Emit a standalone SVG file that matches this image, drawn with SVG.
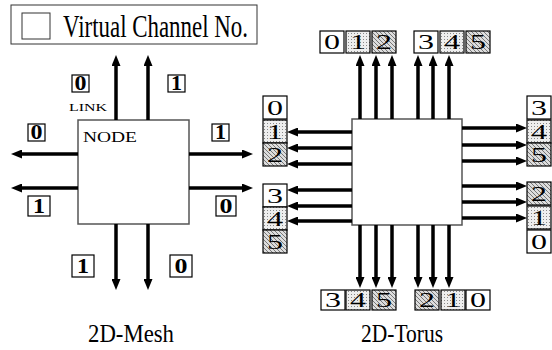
<svg xmlns="http://www.w3.org/2000/svg" width="552" height="350" viewBox="0 0 552 350">
<defs>
<marker id="ah" markerUnits="userSpaceOnUse" markerWidth="11" markerHeight="9" refX="0" refY="4.5" orient="auto">
<path d="M0,0 L11,4.5 L0,9 Z" fill="#000"/>
</marker>
<pattern id="dots" width="3" height="3" patternUnits="userSpaceOnUse">
<rect width="3" height="3" fill="#eee"/>
<rect width="1" height="1" fill="#888"/>
</pattern>
<pattern id="hatch" width="4" height="4" patternUnits="userSpaceOnUse">
<rect width="4" height="4" fill="#ddd"/>
<path d="M0,0 L4,4 M-1,3 L1,5 M3,-1 L5,1" stroke="#777" stroke-width="1"/>
</pattern>
</defs>
<style>
text{font-family:"Liberation Serif","DejaVu Serif",serif}
.box{fill:#fff;stroke:#555;stroke-width:1.5}
.lb{stroke:#000;stroke-width:1.2}
.w{fill:#fff}
.d{fill:url(#dots)}
.h{fill:url(#hatch)}
.mt{font-weight:bold;font-size:20px;text-anchor:middle}
.tt{font-size:22px;text-anchor:middle}
.big{font-size:26px}
.conn path{fill:none;stroke:#000;stroke-width:3.5;marker-end:url(#ah)}
</style>

<g id="legend">
<rect x="11" y="5" width="246" height="39" fill="#fff" stroke="#333" stroke-width="1"/>
<rect x="22" y="13" width="28" height="26" fill="#fff" stroke="#333" stroke-width="1"/>
<text x="63" y="37" font-size="31" textLength="185" lengthAdjust="spacingAndGlyphs">Virtual Channel No.</text>
</g>

<g id="mesh-node">
<rect class="box" x="78" y="120" width="111" height="104"/>
<text x="83" y="142" font-size="15" textLength="54" lengthAdjust="spacingAndGlyphs">NODE</text>
</g>
<text id="link-label" x="69" y="111" font-size="10" textLength="38" lengthAdjust="spacingAndGlyphs">LINK</text>

<g id="mesh-labels">
<g><rect class="lb w" x="72" y="75" width="17" height="17"/><text class="mt" x="80.5" y="89.5" textLength="12" lengthAdjust="spacingAndGlyphs">0</text></g>
<g><rect class="lb w" x="168" y="75" width="17" height="17"/><text class="mt" x="176.5" y="89.5" textLength="11" lengthAdjust="spacingAndGlyphs">1</text></g>
<g><rect class="lb w" x="28" y="124" width="17" height="17"/><text class="mt" x="36.5" y="138.5" textLength="12" lengthAdjust="spacingAndGlyphs">0</text></g>
<g><rect class="lb w" x="212" y="124" width="17" height="17"/><text class="mt" x="220.5" y="138.5" textLength="11" lengthAdjust="spacingAndGlyphs">1</text></g>
<g><rect class="lb w" x="28" y="196" width="22" height="20"/><text class="mt" x="39" y="212.5" textLength="12" lengthAdjust="spacingAndGlyphs">1</text></g>
<g><rect class="lb w" x="216" y="196" width="20" height="20"/><text class="mt" x="226" y="212.5" textLength="13" lengthAdjust="spacingAndGlyphs">0</text></g>
<g><rect class="lb w" x="72" y="255" width="22" height="22"/><text class="mt" x="83" y="272.5" textLength="12" lengthAdjust="spacingAndGlyphs">1</text></g>
<g><rect class="lb w" x="170" y="255" width="22" height="22"/><text class="mt" x="181" y="272.5" textLength="13" lengthAdjust="spacingAndGlyphs">0</text></g>
</g>

<g id="torus-node">
<rect class="box" x="352" y="119" width="110" height="106"/>
</g>

<g id="torus-labels">
<g><rect class="lb w" x="320" y="31" width="24" height="22"/><text class="tt" x="332" y="49" textLength="16" lengthAdjust="spacingAndGlyphs">0</text></g>
<g><rect class="lb d" x="346" y="31" width="24" height="22"/><text class="tt" x="358" y="49" textLength="16" lengthAdjust="spacingAndGlyphs">1</text></g>
<g><rect class="lb h" x="372" y="31" width="24" height="22"/><text class="tt" x="384" y="49" textLength="16" lengthAdjust="spacingAndGlyphs">2</text></g>
<g><rect class="lb w" x="414" y="31" width="24" height="22"/><text class="tt" x="426" y="49" textLength="16" lengthAdjust="spacingAndGlyphs">3</text></g>
<g><rect class="lb d" x="440" y="31" width="24" height="22"/><text class="tt" x="452" y="49" textLength="16" lengthAdjust="spacingAndGlyphs">4</text></g>
<g><rect class="lb h" x="466" y="31" width="24" height="22"/><text class="tt" x="478" y="49" textLength="16" lengthAdjust="spacingAndGlyphs">5</text></g>

<g><rect class="lb w" x="321" y="290" width="24" height="20"/><text class="tt" x="333" y="307" textLength="16" lengthAdjust="spacingAndGlyphs">3</text></g>
<g><rect class="lb d" x="346" y="290" width="24" height="20"/><text class="tt" x="358" y="307" textLength="16" lengthAdjust="spacingAndGlyphs">4</text></g>
<g><rect class="lb h" x="372" y="290" width="24" height="20"/><text class="tt" x="384" y="307" textLength="16" lengthAdjust="spacingAndGlyphs">5</text></g>
<g><rect class="lb h" x="415" y="290" width="24" height="20"/><text class="tt" x="427" y="307" textLength="16" lengthAdjust="spacingAndGlyphs">2</text></g>
<g><rect class="lb d" x="441" y="290" width="24" height="20"/><text class="tt" x="453" y="307" textLength="16" lengthAdjust="spacingAndGlyphs">1</text></g>
<g><rect class="lb w" x="466" y="290" width="24" height="20"/><text class="tt" x="478" y="307" textLength="16" lengthAdjust="spacingAndGlyphs">0</text></g>

<g><rect class="lb w" x="263" y="96" width="24" height="23"/><text class="tt" x="275" y="115" textLength="16" lengthAdjust="spacingAndGlyphs">0</text></g>
<g><rect class="lb d" x="263" y="120" width="24" height="23"/><text class="tt" x="275" y="139" textLength="16" lengthAdjust="spacingAndGlyphs">1</text></g>
<g><rect class="lb h" x="263" y="143" width="24" height="23"/><text class="tt" x="275" y="162" textLength="16" lengthAdjust="spacingAndGlyphs">2</text></g>
<g><rect class="lb w" x="263" y="184" width="24" height="23"/><text class="tt" x="275" y="203" textLength="16" lengthAdjust="spacingAndGlyphs">3</text></g>
<g><rect class="lb d" x="263" y="207" width="24" height="23"/><text class="tt" x="275" y="226" textLength="16" lengthAdjust="spacingAndGlyphs">4</text></g>
<g><rect class="lb h" x="263" y="230" width="24" height="23"/><text class="tt" x="275" y="249" textLength="16" lengthAdjust="spacingAndGlyphs">5</text></g>

<g><rect class="lb w" x="527" y="96" width="24" height="23"/><text class="tt" x="539" y="115" textLength="16" lengthAdjust="spacingAndGlyphs">3</text></g>
<g><rect class="lb d" x="527" y="120" width="24" height="23"/><text class="tt" x="539" y="139" textLength="16" lengthAdjust="spacingAndGlyphs">4</text></g>
<g><rect class="lb h" x="527" y="143" width="24" height="23"/><text class="tt" x="539" y="162" textLength="16" lengthAdjust="spacingAndGlyphs">5</text></g>
<g><rect class="lb h" x="527" y="182" width="24" height="23"/><text class="tt" x="539" y="201" textLength="16" lengthAdjust="spacingAndGlyphs">2</text></g>
<g><rect class="lb d" x="527" y="206" width="24" height="23"/><text class="tt" x="539" y="225" textLength="16" lengthAdjust="spacingAndGlyphs">1</text></g>
<g><rect class="lb w" x="527" y="230" width="24" height="23"/><text class="tt" x="539" y="249" textLength="16" lengthAdjust="spacingAndGlyphs">0</text></g>
</g>

<g id="connectors" class="conn">
<path d="M116,120 V66"/>
<path d="M148,120 V66"/>
<path d="M78,154 H22"/>
<path d="M78,188 H22"/>
<path d="M189,154 H242"/>
<path d="M189,188 H242"/>
<path d="M116,224 V279"/>
<path d="M148,224 V279"/>

<path d="M360,119 V66"/>
<path d="M376,119 V66"/>
<path d="M392,119 V66"/>
<path d="M418,119 V66"/>
<path d="M433,119 V66"/>
<path d="M449,119 V66"/>

<path d="M360,225 V277"/>
<path d="M376,225 V277"/>
<path d="M392,225 V277"/>
<path d="M418,225 V277"/>
<path d="M433,225 V277"/>
<path d="M449,225 V277"/>

<path d="M352,132 H298"/>
<path d="M352,148 H298"/>
<path d="M352,164 H298"/>
<path d="M352,190 H298"/>
<path d="M352,206 H298"/>
<path d="M352,221 H298"/>

<path d="M462,128 H516"/>
<path d="M462,145 H516"/>
<path d="M462,161 H516"/>
<path d="M462,186 H516"/>
<path d="M462,202 H516"/>
<path d="M462,218 H516"/>
</g>

<text x="88" y="342" class="big" textLength="86" lengthAdjust="spacingAndGlyphs">2D-Mesh</text>
<text x="361" y="342" class="big" textLength="82" lengthAdjust="spacingAndGlyphs">2D-Torus</text>
</svg>
